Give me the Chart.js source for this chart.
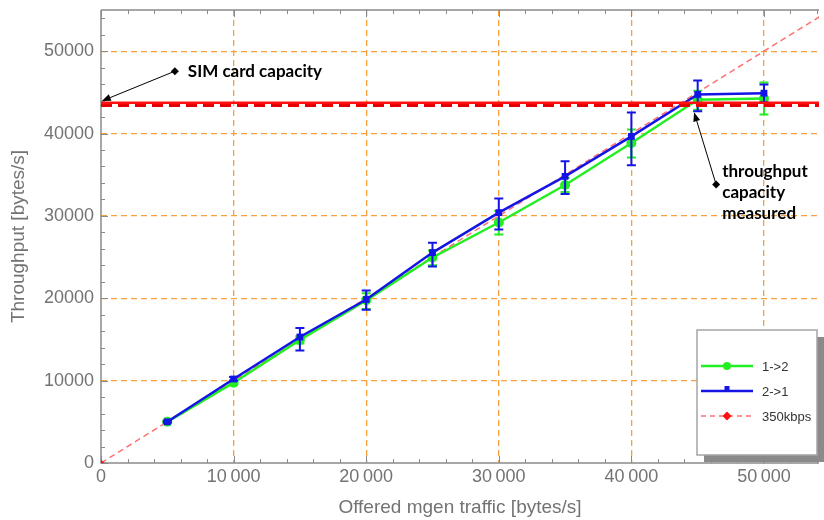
<!DOCTYPE html>
<html><head><meta charset="utf-8">
<script src="https://cdn.jsdelivr.net/npm/chart.js@4.4.1/dist/chart.umd.min.js"></script>
<style>html,body{margin:0;padding:0;background:#fff}#wrap{width:824px;height:520px}</style>
</head><body><div id="wrap"><canvas id="c" width="824" height="520"></canvas></div>
<script>
// ---- data ----
const offered   = [5000, 10000, 15000, 20000, 25000, 30000, 35000, 40000, 45000, 50000];
const thr12     = [5000, 9750, 14950, 19750, 24950, 29200, 33750, 38850, 44100, 44250];
const thr12Lo   = [4900, 9500, 14500, 18700, 24000, 27750, 32900, 37100, 42900, 42300];
const thr12Hi   = [5100, 10000, 15400, 20600, 25800, 30600, 34600, 40500, 45200, 46200];
const thr21     = [5000, 10200, 15300, 19850, 25550, 30400, 34800, 39650, 44750, 44900];
const thr21Lo   = [4900, 10000, 13650, 18600, 23850, 28350, 32650, 36150, 42700, 43800];
const thr21Hi   = [5100, 10450, 16400, 20950, 26750, 32100, 36650, 42550, 46450, 45950];
const refX      = [0, 54200];          // 350kbps reference (y = x)
const refY      = [0, 54200];
const simCapacity      = 43750;        // 350 kbps in bytes/s
const measuredCapacity = 43400;
const seriesLabels = ['1->2', '2->1', '350kbps'];
const xTickValues = [0, 10000, 20000, 30000, 40000, 50000];
const yTickValues = [0, 10000, 20000, 30000, 40000, 50000];
const xRange = [0, 54150];
const yRange = [0, 55000];
const notes = [
  {text: ['SIM card capacity'], tx: 6550, ty: 47570, from: [5570, 47570], to: [60, 43950]},
  {text: ['throughput', 'capacity', 'measured'], tx: 46850, ty: 35400, from: [46390, 33820], to: [44730, 42580]}
];

const GREEN = '#22ee22', BLUE = '#1414e6', PINK = '#ff7070', RED = '#ff1010';
const toXY = (xs, ys) => xs.map((x, i) => ({x, y: ys[i]}));
const errs = {1: [thr12Lo, thr12Hi, GREEN], 2: [thr21Lo, thr21Hi, BLUE]};

const decorPlugin = {
  id: 'decor',
  beforeDatasetsDraw(chart) {
    const {ctx, chartArea: a, scales: {x, y}} = chart;
    ctx.save();
    ctx.strokeStyle = '#8a8a8a'; ctx.lineWidth = 1.5;
    ctx.beginPath();
    ctx.moveTo(a.left, a.top); ctx.lineTo(a.left, a.bottom); ctx.lineTo(a.right, a.bottom);
    ctx.moveTo(a.left, a.top); ctx.lineTo(a.right, a.top);
    ctx.stroke();
    ctx.lineWidth = 1;
    ctx.beginPath();
    for (let v = 0; v <= xRange[1]; v += 2000) {
      const px = Math.round(x.getPixelForValue(v)) + 0.5;
      const len = v % 10000 === 0 ? 7 : 4;
      ctx.moveTo(px, a.bottom); ctx.lineTo(px, a.bottom - len);
      ctx.moveTo(px, a.top); ctx.lineTo(px, a.top + len);
    }
    for (let v = 0; v <= yRange[1]; v += 2000) {
      const py = Math.round(y.getPixelForValue(v)) + 0.5;
      const len = v % 10000 === 0 ? 7 : 4;
      ctx.moveTo(a.left, py); ctx.lineTo(a.left + len, py);
    }
    ctx.stroke();
    ctx.restore();
  },
  afterDatasetDraw(chart, args) {
    const e = errs[args.index];
    if (!e) return;
    const {ctx, scales: {x, y}} = chart;
    ctx.save();
    ctx.strokeStyle = e[2]; ctx.lineWidth = 2;
    ctx.beginPath();
    offered.forEach((v, i) => {
      const px = x.getPixelForValue(v);
      const lo = y.getPixelForValue(e[0][i]), hi = y.getPixelForValue(e[1][i]);
      ctx.moveTo(px, lo); ctx.lineTo(px, hi);
      ctx.moveTo(px - 4.5, lo); ctx.lineTo(px + 4.5, lo);
      ctx.moveTo(px - 4.5, hi); ctx.lineTo(px + 4.5, hi);
    });
    ctx.stroke();
    ctx.restore();
  },
  afterDraw(chart) {
    const {ctx, scales: {x, y}} = chart;
    ctx.save();
    // annotations
    ctx.fillStyle = '#000'; ctx.strokeStyle = '#000'; ctx.lineWidth = 1;
    ctx.font = 'bold 17px Lato';
    ctx.textBaseline = 'middle'; ctx.textAlign = 'left';
    notes.forEach(n => {
      const x1 = x.getPixelForValue(n.from[0]), y1 = y.getPixelForValue(n.from[1]);
      const x2 = x.getPixelForValue(n.to[0]), y2 = y.getPixelForValue(n.to[1]);
      const ang = Math.atan2(y2 - y1, x2 - x1);
      const hx = x2 - 9 * Math.cos(ang), hy = y2 - 9 * Math.sin(ang);
      ctx.beginPath(); ctx.moveTo(x1, y1); ctx.lineTo(hx, hy); ctx.stroke();
      ctx.beginPath();
      ctx.moveTo(x2, y2);
      ctx.lineTo(hx + 3.5 * Math.sin(ang), hy - 3.5 * Math.cos(ang));
      ctx.lineTo(hx - 3.5 * Math.sin(ang), hy + 3.5 * Math.cos(ang));
      ctx.closePath(); ctx.fill();
      ctx.beginPath();
      ctx.moveTo(x1 - 4, y1); ctx.lineTo(x1, y1 - 4); ctx.lineTo(x1 + 4, y1); ctx.lineTo(x1, y1 + 4);
      ctx.closePath(); ctx.fill();
      const tx = x.getPixelForValue(n.tx), ty = y.getPixelForValue(n.ty);
      n.text.forEach((t, i) => ctx.fillText(t, tx, ty + i * 21));
    });
    // legend
    const L = 697, T = 330, W = 120, H = 125;
    ctx.fillStyle = '#8a8a8a'; ctx.fillRect(L + 7, T + 7, W, H);
    ctx.fillStyle = '#fff'; ctx.fillRect(L, T, W, H);
    ctx.strokeStyle = '#a5a5a5'; ctx.lineWidth = 1.5; ctx.strokeRect(L, T, W, H);
    const rows = [
      {c: GREEN, w: 2.5, dash: [], m: 'circle', mc: GREEN},
      {c: BLUE, w: 2.5, dash: [], m: 'rect', mc: BLUE},
      {c: PINK, w: 1.5, dash: [5, 4], m: 'diamond', mc: RED}
    ];
    ctx.font = '13px "Liberation Sans"'; ctx.textBaseline = 'middle';
    rows.forEach((r, i) => {
      const ry = T + 36 + i * 25;
      ctx.strokeStyle = r.c; ctx.lineWidth = r.w; ctx.setLineDash(r.dash);
      ctx.beginPath(); ctx.moveTo(L + 4, ry); ctx.lineTo(L + 56, ry); ctx.stroke();
      ctx.setLineDash([]);
      ctx.fillStyle = r.mc;
      const mx = L + 30;
      ctx.beginPath();
      if (r.m === 'circle') ctx.arc(mx, ry, 4, 0, Math.PI * 2);
      else if (r.m === 'rect') ctx.rect(mx - 2.5, ry - 5, 5, 5);
      else { ctx.moveTo(mx - 4.5, ry); ctx.lineTo(mx, ry - 4.5); ctx.lineTo(mx + 4.5, ry); ctx.lineTo(mx, ry + 4.5); ctx.closePath(); }
      ctx.fill();
      ctx.fillStyle = '#333';
      ctx.fillText(seriesLabels[i], L + 65, ry + 1);
    });
    ctx.restore();
  }
};

const tickFont = {family: '"Liberation Sans"', size: 18};
const titleFont = {family: '"Liberation Sans"', size: 19};
const TICKC = '#737373';
const gridColor = c => (c.tick && c.tick.value === 0) ? 'rgba(0,0,0,0)' : '#f7a03c';

new Chart(document.getElementById('c'), {
  type: 'line',
  data: {
    datasets: [
      {label: 'sim', data: toXY(xRange, [simCapacity, simCapacity]), borderColor: RED, borderWidth: 2.5, pointRadius: 0, order: 0},
      {label: seriesLabels[0], data: toXY(offered, thr12), borderColor: GREEN, backgroundColor: GREEN, borderWidth: 2.5,
       pointRadius: 5, pointStyle: 'circle', pointBorderWidth: 0, order: 2},
      {label: seriesLabels[1], data: toXY(offered, thr21), borderColor: BLUE, backgroundColor: BLUE, borderWidth: 2.5,
       pointRadius: 4.8, pointStyle: 'rect', pointBorderWidth: 0, order: 1},
      {label: seriesLabels[2], data: toXY(refX, refY), borderColor: PINK, backgroundColor: RED, borderWidth: 1.5,
       borderDash: [6, 4], pointRadius: [3.5, 0], pointStyle: 'rectRot', pointBorderWidth: 0, order: 3},
      {label: 'measured', data: toXY(xRange, [measuredCapacity, measuredCapacity]), borderColor: '#e80000', borderWidth: 3,
       borderDash: [11, 6], pointRadius: 0, order: 0}
    ]
  },
  options: {
    responsive: false, animation: false,
    layout: {padding: {top: 10, right: 0, left: 0, bottom: 0}},
    plugins: {legend: {display: false}, tooltip: {enabled: false}},
    elements: {line: {tension: 0}},
    scales: {
      x: {
        type: 'linear', min: xRange[0], max: xRange[1],
        afterBuildTicks: s => { s.ticks = xTickValues.map(v => ({value: v})); },
        afterFit: s => { s.height = 57; s.paddingLeft = 0; s.paddingRight = 0; },
        ticks: {font: tickFont, color: TICKC, padding: 3, maxRotation: 0,
                callback: v => v >= 10000 ? Math.floor(v / 1000) + '\u2009' + String(v % 1000).padStart(3, '0') : String(v)},
        grid: {color: gridColor, lineWidth: 1.3, drawTicks: false},
        border: {display: false, dash: [6, 4]},
        title: {display: true, text: 'Offered mgen traffic [bytes/s]', font: titleFont, color: TICKC, padding: {top: 4, bottom: 1}}
      },
      y: {
        type: 'linear', min: yRange[0], max: yRange[1],
        afterBuildTicks: s => { s.ticks = yTickValues.map(v => ({value: v})); },
        afterFit: s => { s.width = 101; s.paddingTop = 0; s.paddingBottom = 0; },
        ticks: {font: tickFont, color: TICKC, padding: 7, callback: v => String(v)},
        grid: {color: gridColor, lineWidth: 1.3, drawTicks: false},
        border: {display: false, dash: [6, 4]},
        title: {display: true, text: 'Throughput [bytes/s]', font: titleFont, color: TICKC, padding: {top: 7, bottom: 0}}
      }
    }
  },
  plugins: [decorPlugin]
});
</script>
</body></html>
